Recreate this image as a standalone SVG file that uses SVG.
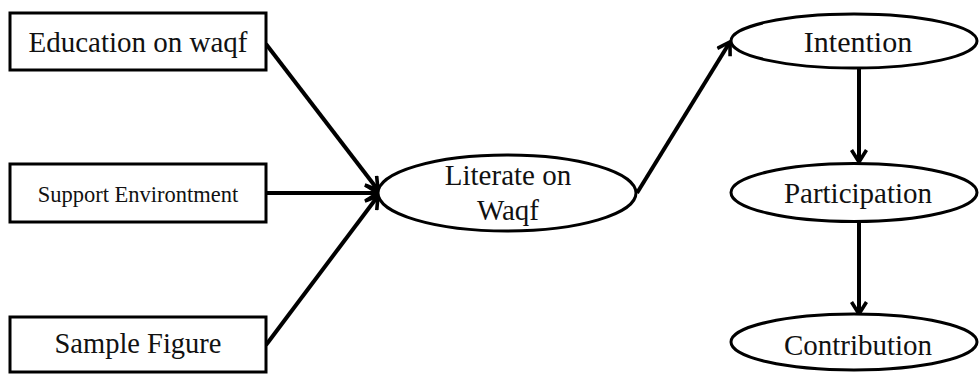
<svg xmlns="http://www.w3.org/2000/svg" width="979" height="374" viewBox="0 0 979 374">
<defs>
<style>
.box{fill:#fff;stroke:#000;stroke-width:3}
.ell{fill:#fff;stroke:#000;stroke-width:3}
.t{font-family:"Liberation Serif","Times New Roman",serif;fill:#111;text-anchor:middle}
.c{fill:none;stroke:#000;stroke-width:4;marker-end:url(#ah)}
</style>
<marker id="ah" viewBox="0 0 12 12" refX="10" refY="6" markerWidth="4.5" markerHeight="4.5" orient="auto" markerUnits="strokeWidth">
<path d="M2,1 L10,6 L2,11" fill="none" stroke="#000" stroke-width="2.4" stroke-linejoin="miter"/>
</marker>
</defs>
<g id="connectors">
<line class="c" x1="266" y1="44" x2="378" y2="190"/>
<line class="c" x1="266" y1="193" x2="378" y2="193"/>
<line class="c" x1="266" y1="345" x2="378" y2="196"/>
<line class="c" x1="637" y1="193" x2="730" y2="42"/>
<line class="c" x1="859" y1="68" x2="859" y2="162"/>
<line class="c" x1="859" y1="222" x2="859" y2="314"/>
</g>
<g id="education">
<rect class="box" x="10" y="13" width="256" height="57"/>
<text class="t" x="138" y="52" font-size="29">Education on waqf</text>
</g>
<g id="support">
<rect class="box" x="10" y="164" width="256" height="58"/>
<text class="t" x="138" y="202" font-size="22.5">Support Environtment</text>
</g>
<g id="sample">
<rect class="box" x="10" y="317" width="256" height="55"/>
<text class="t" x="138" y="353" font-size="28.5">Sample Figure</text>
</g>
<g id="literate">
<ellipse class="ell" cx="507" cy="193" rx="129" ry="38"/>
<text class="t" x="508" y="185" font-size="29">Literate on</text>
<text class="t" x="508" y="220" font-size="29">Waqf</text>
</g>
<g id="intention">
<ellipse class="ell" cx="854" cy="41" rx="123" ry="27"/>
<text class="t" x="858" y="52" font-size="30">Intention</text>
</g>
<g id="participation">
<ellipse class="ell" cx="854" cy="192.5" rx="123" ry="29"/>
<text class="t" x="858" y="203" font-size="29">Participation</text>
</g>
<g id="contribution">
<ellipse class="ell" cx="854" cy="342" rx="123" ry="28"/>
<text class="t" x="858" y="355" font-size="29">Contribution</text>
</g>
</svg>
